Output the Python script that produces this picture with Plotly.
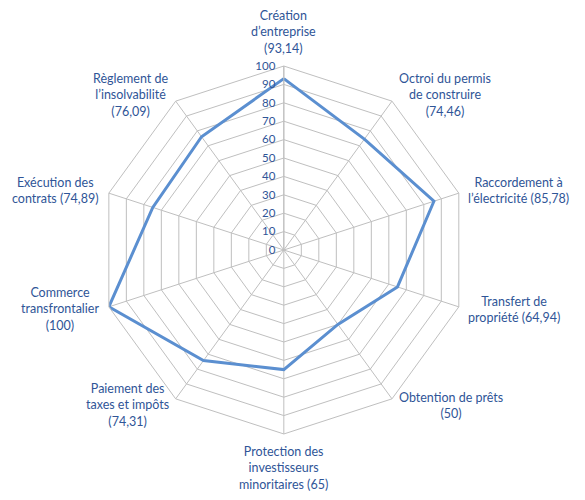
import math
import plotly.graph_objects as go

# Doing Business scores per topic
topics = ["Création<br>d’entreprise",
          "Octroi du permis<br>de construire",
          "Raccordement à<br>l’électricité",
          "Transfert de<br>propriété",
          "Obtention de prêts",
          "Protection des<br>investisseurs<br>minoritaires",
          "Paiement des<br>taxes et impôts",
          "Commerce<br>transfrontalier",
          "Exécution des<br>contrats",
          "Règlement de<br>l’insolvabilité"]
score_labels = ["(93,14)", "(74,46)", "(85,78)", "(64,94)", "(50)",
                "(65)", "(74,31)", "(100)", "(74,89)", "(76,09)"]
label_joins = ["<br>", "<br>", " ", " ", "<br>", " ", "<br>", "<br>", " ", "<br>"]
scores = [93.14, 74.46, 85.78, 64.94, 50, 65, 74.31, 100, 74.89, 76.09]
radial_ticks = [0, 10, 20, 30, 40, 50, 60, 70, 80, 90, 100]

W, H = 585, 500
dom_x = [0.157, 0.786]
dom_y = [0.148, 0.884]

fig = go.Figure()
fig.add_trace(go.Scatterpolar(
    r=scores + [scores[0]],
    theta=topics + [topics[0]],
    mode="lines",
    line=dict(color="#5B8FD0", width=3),
))

# category labels, centred text placed just outside each spoke
cx = (dom_x[0] + dom_x[1]) / 2
cy = (dom_y[0] + dom_y[1]) / 2
rad = (dom_x[1] - dom_x[0]) * W / 2 + 8
for i, (t, s, j) in enumerate(zip(topics, score_labels, label_joins)):
    a = math.radians(90 - 36 * i)
    c, sn = math.cos(a), math.sin(a)
    xa = "center" if abs(c) < 0.1 else ("left" if c > 0 else "right")
    ya = "bottom" if sn > 0.9 else ("top" if sn < -0.9 else "middle")
    fig.add_annotation(x=cx + rad * c / W, y=cy + rad * sn / H,
                       xref="paper", yref="paper", text=t + j + s,
                       showarrow=False, xanchor=xa, yanchor=ya, align="center",
                       font=dict(family="Lato", size=12.5, color="#2F5597"))

fig.update_layout(
    width=W, height=H,
    paper_bgcolor="white",
    showlegend=False,
    margin=dict(l=0, r=0, t=0, b=0),
    font=dict(family="Lato", size=12.5, color="#2F5597"),
    polar=dict(
        domain=dict(x=dom_x, y=dom_y),
        gridshape="linear",
        bgcolor="white",
        radialaxis=dict(range=[0, 100], tickvals=radial_ticks, angle=90,
                        tickangle=90, side="counterclockwise",
                        showline=True, linecolor="#BFBFBF",
                        gridcolor="#BFBFBF",
                        ticks="outside", ticklen=4, tickcolor="rgba(0,0,0,0)",
                        tickfont=dict(size=11.5, color="#2F5597")),
        angularaxis=dict(direction="clockwise", rotation=90,
                         gridcolor="#BFBFBF", linecolor="#BFBFBF",
                         showticklabels=False, ticks=""),
    ),
)

fig.write_html("out.html")
